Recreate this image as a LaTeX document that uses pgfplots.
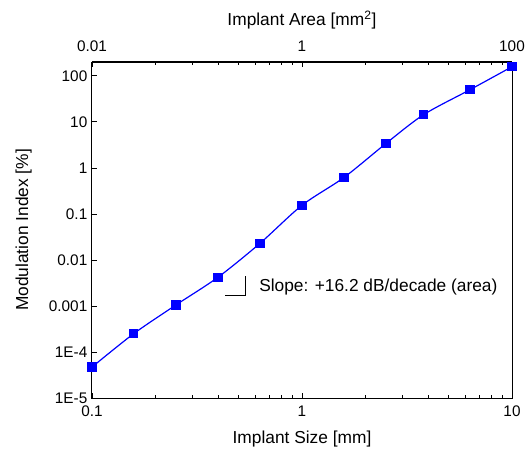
\documentclass[border=0pt]{standalone}
\usepackage{fontspec}
\setmainfont{Liberation Sans}
\usepackage{pgfplots}
\pgfplotsset{compat=1.18}
\begin{document}
\begin{tikzpicture}
\useasboundingbox (-69pt,-39pt) rectangle (328.5pt,298.5pt);
\begin{axis}[
  at={(0,0)}, anchor=south west,
  scale only axis, width=315pt, height=252pt,
  xmode=log, ymode=log,
  xmin=0.1, xmax=10, ymin=1e-5, ymax=200,
  xtick={0.1,1,10}, xticklabels={0.1,1,10},
  ytick={1e-5,1e-4,1e-3,1e-2,1e-1,1,10,100},
  yticklabels={1E-5,1E-4,0.001,0.01,0.1,1,10,100},
  yminorticks=false,
  xtick pos=both, ytick pos=left,
  major tick length=4pt, minor tick length=2.5pt,
  tick style={black, line width=0.6pt},
  axis line style={line width=0.75pt},
  ticklabel style={font=\fontsize{11.5}{13}\selectfont},
  label style={font=\fontsize{13}{15}\selectfont},
  xlabel={Implant Size [mm]},
  ylabel={Modulation Index [\%]},
  xticklabel style={yshift=-2.5pt},
  xlabel style={yshift=-4pt},
  ylabel style={yshift=6pt},
]
\addplot[blue, line width=0.9pt, smooth, mark=square*, mark size=3pt, mark options={fill=blue, draw=blue}] coordinates {
 (0.1,4.7e-5) (0.158,2.5e-4) (0.251,1.05e-3) (0.398,4.2e-3) (0.631,0.023)
 (1,0.154) (1.585,0.62) (2.512,3.4) (3.8,14.4) (6.31,50) (10,158)
};
\draw[black, line width=0.75pt] (axis cs:0.43,1.71e-3) -- (axis cs:0.536,1.71e-3) -- (axis cs:0.536,4.4e-3);
\node[anchor=west, font=\fontsize{13}{15}\selectfont, inner sep=0pt] at (axis cs:0.624,2.56e-3) {Slope: +16.2 dB/decade (area)};
\end{axis}
\begin{axis}[
  at={(0,0)}, anchor=south west,
  scale only axis, width=315pt, height=252pt,
  xmode=log, xmin=0.01, xmax=100, ymin=0, ymax=1,
  axis x line*=top, axis y line=none,
  xtick={0.01,1,100}, xticklabels={0.01,1,100},
  xminorticks=false, major tick length=0pt,
  axis line style={line width=0.75pt},
  ticklabel style={font=\fontsize{11.5}{13}\selectfont},
  xticklabel style={yshift=4pt},
  label style={font=\fontsize{13}{15}\selectfont},
  xlabel={Implant Area [mm\textsuperscript{2}]},
  xlabel style={yshift=2pt},
]
\end{axis}
\end{tikzpicture}
\end{document}
